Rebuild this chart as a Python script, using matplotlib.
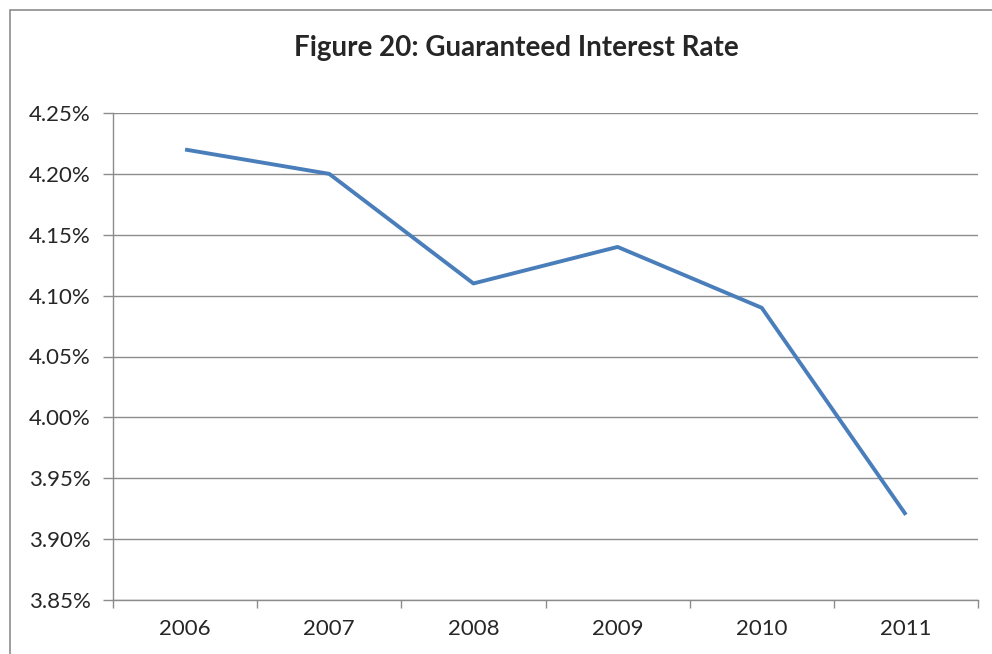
import matplotlib
matplotlib.use("Agg")
import matplotlib.pyplot as plt
from matplotlib.patches import Rectangle
from matplotlib.ticker import FuncFormatter

years = ["2006", "2007", "2008", "2009", "2010", "2011"]
rates = [4.22, 4.20, 4.11, 4.14, 4.09, 3.92]
y_ticks = [3.85, 3.90, 3.95, 4.00, 4.05, 4.10, 4.15, 4.20, 4.25]

plt.rcParams["font.family"] = ["Lato", "DejaVu Sans"]

W, H = 992, 654
fig = plt.figure(figsize=(W / 100, H / 100), dpi=100)

# outer chart border (runs off right and bottom edges)
fig.patches.append(Rectangle((10 / W, -0.1), 1.2, 1 - 10 / H + 0.1,
                             transform=fig.transFigure, fill=False,
                             edgecolor="#8c8c8c", linewidth=1.2))

left, right, top, bottom = 113, 978, 113, 600
ax = fig.add_axes([left / W, 1 - bottom / H, (right - left) / W, (bottom - top) / H])

x = list(range(len(years)))
ax.plot(x, rates, color="#4a7ebb", linewidth=2.8, solid_capstyle="butt", zorder=3)

ax.set_xlim(-0.5, len(years) - 0.5)
ax.set_ylim(3.85, 4.25)
ax.set_yticks(y_ticks)
ax.yaxis.set_major_formatter(FuncFormatter(lambda v, p: "%.2f%%" % v))
ax.grid(axis="y", color="#8c8c8c", linewidth=1.0)
ax.set_axisbelow(True)

ax.set_xticks([i - 0.5 for i in range(len(years) + 1)])
ax.set_xticklabels([])
ax.set_xticks(x, minor=True)
ax.set_xticklabels(years, minor=True)
ax.tick_params(axis="x", which="major", direction="out", length=6, color="#8c8c8c", width=1.0)
ax.tick_params(axis="x", which="minor", length=0, pad=14, labelsize=16, labelcolor="#262626")
ax.tick_params(axis="y", direction="out", length=7, color="#8c8c8c", width=1.0,
               labelsize=16, labelcolor="#262626", pad=9)

for s in ["top", "right"]:
    ax.spines[s].set_visible(False)
for s in ["left", "bottom"]:
    ax.spines[s].set_color("#8c8c8c")
    ax.spines[s].set_linewidth(1.0)

fig.text(516 / W, 1 - 48 / H, "Figure 20: Guaranteed Interest Rate",
         ha="center", va="center", fontsize=20, fontweight="bold", color="#262626")

fig.savefig("out.png", dpi=100)
